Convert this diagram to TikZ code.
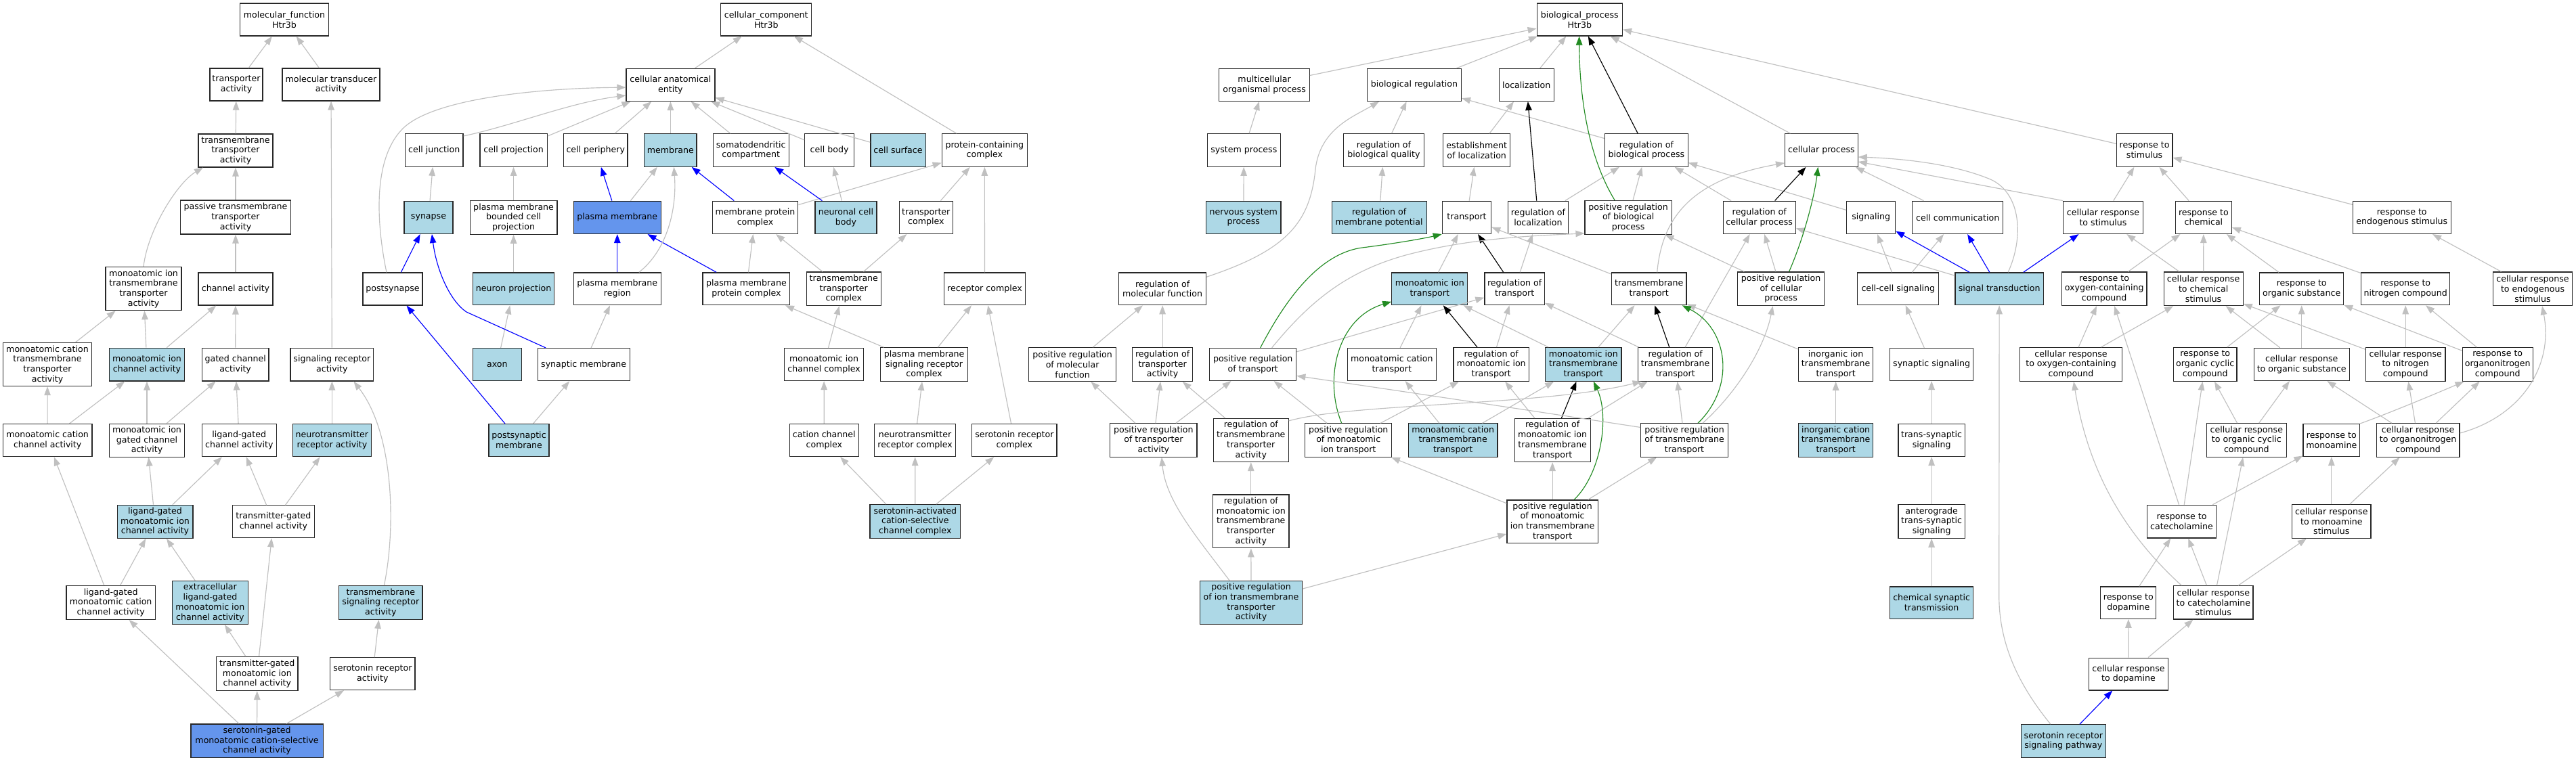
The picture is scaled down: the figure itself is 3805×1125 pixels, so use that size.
\documentclass[tikz,border=0pt]{standalone}
\usepackage{fontspec}
\setmainfont{DejaVu Sans}
\usetikzlibrary{arrows.meta}
\definecolor{edgegray}{RGB}{192,192,192}
\definecolor{lblue}{RGB}{173,216,230}
\definecolor{cblue}{RGB}{100,149,237}
\definecolor{fgreen}{RGB}{34,139,34}
\definecolor{bordergray}{RGB}{40,40,40}
\newcommand{\gn}[7]{\node[#6,minimum width=#4pt,minimum height=#5pt] (#1) at (#2,-#3) {#7};}
\begin{document}
\begin{tikzpicture}[x=1pt,y=1pt,
  gbox/.style={draw=bordergray,line width=1.2pt,rectangle,align=center,inner sep=1pt,font=\fontsize{12.6}{14.7}\selectfont},
  wbox/.style={gbox,fill=white},
  lbox/.style={gbox,fill=lblue},
  cbox/.style={gbox,fill=cblue},
  ge/.style={draw=edgegray,line width=1.15pt,-{Triangle[length=13pt,width=9.5pt]}},
  ke/.style={draw=black,line width=1.15pt,-{Triangle[length=13pt,width=9.5pt]}},
  be/.style={draw=blue,line width=1.15pt,-{Triangle[length=13pt,width=9.5pt]}},
  fe/.style={draw=fgreen,line width=1.15pt,-{Triangle[length=13pt,width=9.5pt]}}]
\useasboundingbox[fill=white] (0,0) rectangle (3805,-1125);
% ---------------- molecular function ----------------
\gn{mf}{420}{29}{131}{48}{wbox}{molecular\_function\\Htr3b}
\gn{ta}{349}{125}{78}{48}{wbox}{transporter\\activity}
\gn{mta}{489}{125}{144}{48}{wbox}{molecular transducer\\activity}
\gn{tta}{348}{222.5}{110}{49}{wbox}{transmembrane\\transporter\\activity}
\gn{ptta}{348}{321}{163}{50}{wbox}{passive transmembrane\\transporter\\activity}
\gn{mitta}{212}{426.6}{112}{64}{wbox}{monoatomic ion\\transmembrane\\transporter\\activity}
\gn{cha}{348}{427}{110}{48}{wbox}{channel activity}
\gn{postsyn}{580}{427}{88}{48}{wbox}{postsynapse}
\gn{mctta}{70}{538.6}{131}{64}{wbox}{monoatomic cation\\transmembrane\\transporter\\activity}
\gn{mica}{217}{538.6}{111.5}{48.7}{lbox}{monoatomic ion\\channel activity}
\gn{gca}{347.7}{538.6}{98.7}{48.7}{wbox}{gated channel\\activity}
\gn{sra}{490.4}{538.6}{122.8}{48.7}{wbox}{signaling receptor\\activity}
\gn{mcca}{70.2}{650.6}{131.4}{48}{wbox}{monoatomic cation\\channel activity}
\gn{migca}{217}{650.6}{111.5}{49}{wbox}{monoatomic ion\\gated channel\\activity}
\gn{lgca}{353.3}{650.6}{109.8}{48}{wbox}{ligand-gated\\channel activity}
\gn{nra}{490.4}{650.6}{115.5}{48}{lbox}{neurotransmitter\\receptor activity}
\gn{lgmica}{229}{770.8}{111.8}{49}{lbox}{ligand-gated\\monoatomic ion\\channel activity}
\gn{tgca}{403.9}{770.8}{120.4}{48}{wbox}{transmitter-gated\\channel activity}
\gn{lgmcca}{163.7}{890.5}{131.4}{49.7}{wbox}{ligand-gated\\monoatomic cation\\channel activity}
\gn{elgmica}{310.4}{890.5}{112.2}{64}{lbox}{extracellular\\ligand-gated\\monoatomic ion\\channel activity}
\gn{tsra}{562.4}{890.5}{123.3}{49.7}{lbox}{transmembrane\\signaling receptor\\activity}
\gn{tgmica}{379.8}{995.6}{120.4}{49.7}{wbox}{transmitter-gated\\monoatomic ion\\channel activity}
\gn{srac}{550.4}{995.6}{125.3}{48}{wbox}{serotonin receptor\\activity}
\gn{sgm}{379.6}{1094.6}{195.1}{49.4}{cbox}{serotonin-gated\\monoatomic cation-selective\\channel activity}
% ---------------- cellular component ----------------
\gn{cc}{1131.8}{29}{133.9}{48}{wbox}{cellular\_component\\Htr3b}
\gn{cae}{990.4}{125.4}{131}{48}{wbox}{cellular anatomical\\entity}
\gn{cj}{641.2}{222}{85.7}{48.5}{wbox}{cell junction}
\gn{cp}{758.6}{222}{99.2}{48.5}{wbox}{cell projection}
\gn{cpe}{879.8}{222}{94.3}{48.5}{wbox}{cell periphery}
\gn{mem}{990.4}{222}{77.1}{48.5}{lbox}{membrane}
\gn{sdc}{1109.2}{222}{112.2}{48.5}{wbox}{somatodendritic\\compartment}
\gn{cb}{1225.1}{222}{72.7}{48.5}{wbox}{cell body}
\gn{cs}{1326.5}{222}{81.2}{48.5}{lbox}{cell surface}
\gn{pcc}{1454.3}{222}{126.1}{48.5}{wbox}{protein-containing\\complex}
\gn{syn}{633}{321.3}{71.9}{48.3}{lbox}{synapse}
\gn{pmbcp}{758.6}{321.3}{128.6}{49.7}{wbox}{plasma membrane\\bounded cell\\projection}
\gn{pm}{911.8}{321.3}{129}{48.3}{cbox}{plasma membrane}
\gn{mpc}{1115.5}{321.3}{126.6}{48.3}{wbox}{membrane protein\\complex}
\gn{ncb}{1249.4}{321.3}{91}{48.3}{lbox}{neuronal cell\\body}
\gn{tc}{1367.8}{321.3}{78.7}{48.3}{wbox}{transporter\\complex}
\gn{np}{758.6}{426.8}{120.4}{47.8}{lbox}{neuron projection}
\gn{pmr}{911.8}{426.8}{129}{47.8}{wbox}{plasma membrane\\region}
\gn{pmpc}{1102.4}{426.8}{128.9}{47.8}{wbox}{plasma membrane\\protein complex}
\gn{ttc}{1246.3}{426.8}{110.2}{49.6}{wbox}{transmembrane\\transporter\\complex}
\gn{rc}{1454.5}{426.8}{120}{47.8}{wbox}{receptor complex}
\gn{axon}{734.3}{538.6}{71.8}{48}{lbox}{axon}
\gn{sm}{862.2}{538.6}{135.9}{48}{wbox}{synaptic membrane}
\gn{micc}{1217.1}{538.6}{117.1}{48}{wbox}{monoatomic ion\\channel complex}
\gn{pmsrc}{1365.1}{538.6}{129}{49.6}{wbox}{plasma membrane\\signaling receptor\\complex}
\gn{psm}{766.5}{650.6}{89}{48}{lbox}{postsynaptic\\membrane}
\gn{ccc}{1217.3}{650.6}{102}{48}{wbox}{cation channel\\complex}
\gn{nrc}{1351.6}{650.6}{120}{48}{wbox}{neurotransmitter\\receptor complex}
\gn{src}{1498.4}{650.6}{125.3}{48}{wbox}{serotonin receptor\\complex}
\gn{sacc}{1351.8}{770.4}{133.5}{49.6}{lbox}{serotonin-activated\\cation-selective\\channel complex}
% ---------------- biological process ----------------
\gn{bp}{2333.3}{29}{126.3}{48}{wbox}{biological\_process\\Htr3b}
\gn{mop}{1867.6}{125.4}{133.5}{48}{wbox}{multicellular\\organismal process}
\gn{br}{2089}{125.4}{138.9}{48}{wbox}{biological regulation}
\gn{loc}{2254.7}{125.4}{80.8}{48}{wbox}{localization}
\gn{sp}{1837.3}{222}{107.6}{48.5}{wbox}{system process}
\gn{rbq}{2044}{222}{118.3}{48.5}{wbox}{regulation of\\biological quality}
\gn{eol}{2181.2}{222}{99.1}{48.5}{wbox}{establishment\\of localization}
\gn{rbp}{2431.9}{222}{122.8}{48.5}{wbox}{regulation of\\biological process}
\gn{cproc}{2690.4}{222}{107.6}{48.5}{wbox}{cellular process}
\gn{rts}{3167.6}{222}{82.6}{48.5}{wbox}{response to\\stimulus}
\gn{nsp}{1836.8}{321.3}{110.3}{48.3}{lbox}{nervous system\\process}
\gn{rmp}{2037.1}{321.3}{140}{48.3}{lbox}{regulation of\\membrane potential}
\gn{tr}{2166.5}{321.3}{72.3}{48.3}{wbox}{transport}
\gn{rloc}{2271.9}{321.3}{88.4}{48.3}{wbox}{regulation of\\localization}
\gn{prbp}{2405.1}{321.3}{128.1}{49.7}{wbox}{positive regulation\\of biological\\process}
\gn{rcp}{2598.7}{321.3}{107.1}{48.3}{wbox}{regulation of\\cellular process}
\gn{sig}{2763.6}{321.3}{71.9}{48.3}{wbox}{signaling}
\gn{ccom}{2891.7}{321.3}{134.3}{48.3}{wbox}{cell communication}
\gn{crts}{3106.5}{321.3}{117.6}{48.3}{wbox}{cellular response\\to stimulus}
\gn{rtc}{3254.9}{321.3}{82.6}{48.3}{wbox}{response to\\chemical}
\gn{rtes}{3547.7}{321.3}{144.7}{48.3}{wbox}{response to\\endogenous stimulus}
\gn{rmf}{1717.1}{426.8}{128.5}{47.8}{wbox}{regulation of\\molecular function}
\gn{mit}{2111.8}{426.8}{112.1}{47.8}{lbox}{monoatomic ion\\transport}
\gn{rtr}{2237.1}{426.8}{88.4}{47.8}{wbox}{regulation of\\transport}
\gn{tmt}{2435.7}{426.8}{110.7}{47.8}{wbox}{transmembrane\\transport}
\gn{prcp}{2630.6}{426.8}{128.1}{49.6}{wbox}{positive regulation\\of cellular\\process}
\gn{ccs}{2803.8}{426.8}{120}{47.8}{wbox}{cell-cell signaling}
\gn{st}{2953.1}{426.8}{130.4}{47.8}{lbox}{signal transduction}
\gn{rtocc}{3108.1}{426.8}{125.7}{49.6}{wbox}{response to\\oxygen-containing\\compound}
\gn{crtcs}{3254.6}{426.8}{117}{49.6}{wbox}{cellular response\\to chemical\\stimulus}
\gn{rtos}{3399.7}{426.8}{123.7}{47.8}{wbox}{response to\\organic substance}
\gn{rtnc}{3553.2}{426.8}{130.9}{47.8}{wbox}{response to\\nitrogen compound}
\gn{crtes}{3741}{426.8}{117.6}{49.6}{wbox}{cellular response\\to endogenous\\stimulus}
\gn{prmf}{1584.1}{538.6}{128.6}{49.6}{wbox}{positive regulation\\of molecular\\function}
\gn{rta}{1717.1}{538.6}{88.5}{49.6}{wbox}{regulation of\\transporter\\activity}
\gn{prt}{1850.7}{538.4}{128.1}{48}{wbox}{positive regulation\\of transport}
\gn{mct}{2055.8}{538.4}{131.2}{48}{wbox}{monoatomic cation\\transport}
\gn{rmit}{2202.7}{538.4}{111.6}{49.6}{wbox}{regulation of\\monoatomic ion\\transport}
\gn{mitt}{2338.8}{538.4}{112.5}{49.6}{lbox}{monoatomic ion\\transmembrane\\transport}
\gn{rtt}{2474.6}{538.4}{109.9}{49.6}{wbox}{regulation of\\transmembrane\\transport}
\gn{iitt}{2711.6}{538.4}{109.8}{49.6}{wbox}{inorganic ion\\transmembrane\\transport}
\gn{ss}{2853.1}{538.4}{123.2}{48}{wbox}{synaptic signaling}
\gn{crtocc}{3059}{538.4}{151}{49.6}{wbox}{cellular response\\to oxygen-containing\\compound}
\gn{rtoc}{3257.2}{538.4}{93.4}{49.6}{wbox}{response to\\organic cyclic\\compound}
\gn{crtos}{3399.7}{538.4}{141.1}{48}{wbox}{cellular response\\to organic substance}
\gn{crtnc}{3553.2}{538.4}{117.5}{49.6}{wbox}{cellular response\\to nitrogen\\compound}
\gn{rtonc}{3689.2}{538.4}{104.2}{49.6}{wbox}{response to\\organonitrogen\\compound}
\gn{prta}{1703.9}{650.5}{128.2}{49.3}{wbox}{positive regulation\\of transporter\\activity}
\gn{rtta}{1847.8}{650.5}{110.7}{64.1}{wbox}{regulation of\\transmembrane\\transporter\\activity}
\gn{prmit}{1991.7}{650.5}{128.1}{49.3}{wbox}{positive regulation\\of monoatomic\\ion transport}
\gn{mctt}{2146.2}{650.5}{131.7}{49.3}{lbox}{monoatomic cation\\transmembrane\\transport}
\gn{rmitt}{2293.1}{650.5}{112}{64.1}{wbox}{regulation of\\monoatomic ion\\transmembrane\\transport}
\gn{prtt}{2488}{650.5}{128.5}{49.3}{wbox}{positive regulation\\of transmembrane\\transport}
\gn{ictt}{2711.6}{650.5}{109.8}{49.3}{lbox}{inorganic cation\\transmembrane\\transport}
\gn{tss}{2853.1}{650.5}{98.2}{48}{wbox}{trans-synaptic\\signaling}
\gn{crtoc}{3318.3}{650.5}{118.1}{49.6}{wbox}{cellular response\\to organic cyclic\\compound}
\gn{rtm}{3443.8}{650.5}{83.6}{48}{wbox}{response to\\monoamine}
\gn{crtonc}{3571.6}{650.5}{122.7}{49.6}{wbox}{cellular response\\to organonitrogen\\compound}
\gn{rmitta}{1847.8}{770.4}{112.5}{78.8}{wbox}{regulation of\\monoatomic ion\\transmembrane\\transporter\\activity}
\gn{prmitt}{2293.1}{770.8}{134.4}{63.8}{wbox}{positive regulation\\of monoatomic\\ion transmembrane\\transport}
\gn{atss}{2853.1}{770.4}{98.2}{49.6}{wbox}{anterograde\\trans-synaptic\\signaling}
\gn{rtca}{3222.5}{770.6}{102.1}{48.6}{wbox}{response to\\catecholamine}
\gn{crtms}{3443.8}{770.4}{116.5}{49.6}{wbox}{cellular response\\to monoamine\\stimulus}
\gn{pritta}{1848}{890.4}{150.4}{64.2}{lbox}{positive regulation\\of ion transmembrane\\transporter\\activity}
\gn{cst}{2853.1}{890.6}{123.2}{47.4}{lbox}{chemical synaptic\\transmission}
\gn{rtd}{3143.8}{890.6}{82.1}{47.4}{wbox}{response to\\dopamine}
\gn{crtcas}{3269.3}{890.4}{117.5}{49.3}{wbox}{cellular response\\to catecholamine\\stimulus}
\gn{crtd}{3144}{996}{116.6}{47.8}{wbox}{cellular response\\to dopamine}
\gn{srsp}{3047.8}{1094.9}{125.1}{48.5}{lbox}{serotonin receptor\\signaling pathway}
% ---------------- straight gray edges ----------------
\foreach \a/\b in {ta/mf, mta/mf, tta/ta, ptta/tta, cha/ptta, mctta/mitta, mica/mitta, mica/cha, gca/cha, sra/mta,
  mcca/mctta, mcca/mica, migca/mica, migca/gca, lgca/gca, nra/sra, lgmica/migca, lgmica/lgca, tgca/lgca, tgca/nra,
  lgmcca/mcca, lgmcca/lgmica, elgmica/lgmica, tgmica/elgmica, tgmica/tgca, srac/tsra, sgm/lgmcca, sgm/tgmica, sgm/srac,
  cae/cc, pcc/cc, cp/cae, cpe/cae, mem/cae, sdc/cae, cb/cae, cs/cae, syn/cj, pmbcp/cp, pm/mem, mpc/pcc, ncb/cb, tc/pcc,
  np/pmbcp, pmpc/mpc, ttc/mpc, ttc/tc, rc/pcc, axon/np, sm/pmr, micc/ttc, pmsrc/pmpc, pmsrc/rc, psm/sm, ccc/micc,
  nrc/pmsrc, src/rc, sacc/nrc, sacc/src,
  mop/bp, br/bp, loc/bp, cproc/bp, rts/bp, sp/mop, rbq/br, eol/loc, rbp/br, nsp/sp, rmp/rbq, tr/eol, rloc/rbp,
  prbp/rbp, rcp/rbp, sig/rbp, ccom/cproc, crts/rts, rtc/rts, rtes/rts, mit/tr, tmt/tr, rtr/rloc, prcp/rcp, prcp/prbp,
  ccs/sig, ccs/ccom, st/rcp, rtocc/rtc, crtcs/rtc, crtcs/crts, rtos/rtc, rtnc/rtc, crtes/rtes, prmf/rmf, rta/rmf,
  mct/mit, rmit/rtr, mitt/mit, mitt/tmt, rtt/rtr, iitt/tmt, ss/ccs, crtocc/rtocc, crtocc/crtcs, rtoc/rtos, crtos/crtcs,
  crtos/rtos, crtnc/crtcs, crtnc/rtnc, rtonc/rtos, rtonc/rtnc, prta/prmf, prta/rta, rtta/rta, prta/prt, prmit/prt,
  prt/rtr, mctt/mct, prmit/rmit, rmitt/rmit, mctt/mitt, rmitt/rtt, prtt/rtt, ictt/iitt, tss/ss, rtca/rtoc, rtca/rtm,
  crtoc/rtoc, crtoc/crtos, crtonc/crtos, crtonc/crtnc, crtonc/rtonc, crtms/rtm, crtms/crtonc, rmitta/rtta,
  prmitt/prmit, prmitt/rmitt, prmitt/prtt, atss/tss, pritta/rmitta, pritta/prmitt, cst/atss, crtcas/rtca,
  crtcas/crtoc, crtcas/crtms, rtd/rtca, crtd/rtd, crtd/crtcas, rtt/rcp}
  \draw[ge] (\a) -- (\b);
\draw[ge] ([xshift=-43pt]sacc.north) -- (ccc);
\draw[ge] (crts.north west) -- ([yshift=-17pt]cproc.east);
\draw[ge] ([xshift=-4pt]rtca.north) -- ([xshift=15pt]rtocc.south);
% ---------------- black, blue, green straight edges ----------------
\foreach \a/\b in {rbp/bp, rloc/loc, rcp/cproc, rtr/tr, rmit/mit, rmitt/mitt, rtt/tmt}
  \draw[ke] (\a) -- (\b);
\foreach \a/\b in {pm/cpe, mpc/mem, ncb/sdc, postsyn/syn, pmr/pm, pmpc/pm, psm/postsyn, st/sig, st/ccom, st/crts, srsp/crtd}
  \draw[be] (\a) -- (\b);
% ---------------- curved edges ----------------
\draw[ge] (mitta.north) .. controls (218,-340) and (262,-270) .. ([xshift=-48pt]tta.south);
\draw[ge] ([xshift=5pt]tsra.north) .. controls (585,-780) and (582,-640) .. ([xshift=32pt]sra.south);
\draw[ge] ([yshift=21pt]cj.east) .. controls (760,-185) and (840,-152) .. ([yshift=-15.6pt]cae.west);
\draw[ge] ([xshift=-9pt]postsyn.north) .. controls (560,-350) and (545,-240) .. (595,-190)
   .. controls (640,-145) and (800,-130) .. ([yshift=-3.8pt]cae.west);
\draw[ge] ([xshift=32pt]pmr.north) .. controls (985,-370) and (1000,-310) .. ([xshift=5pt]mem.south);
\draw[be] ([xshift=-56pt]sm.north) -- (689,-461) .. controls (665,-445) and (645,-400) .. ([xshift=5pt]syn.south);
\draw[ge] ([yshift=-7pt]rmf.north east) .. controls (1900,-370) and (1935,-330) .. (1943,-250)
   .. controls (1950,-190) and (2000,-172) .. ([xshift=-52pt]br.south);
\draw[fe] ([xshift=-20pt]prbp.north) .. controls (2345,-230) and (2333,-140) .. ([xshift=-0.7pt]bp.south);
\draw[fe] ([xshift=11pt]prt.north) .. controls (1895,-450) and (1945,-375) .. (2012,-366)
   .. controls (2060,-360) and (2105,-352) .. (tr.south west);
\draw[ge] ([xshift=28pt]prt.north) .. controls (1935,-445) and (1990,-400) .. (2080,-376)
   .. controls (2180,-350) and (2280,-348) .. ([yshift=2pt]prbp.south west);
\draw[fe] ([xshift=-10pt]prmit.north) .. controls (1955,-560) and (1975,-470) .. ([yshift=-19pt]mit.west);
\draw[fe] ([xshift=32pt]prmitt.north) .. controls (2365,-700) and (2378,-615) .. ([xshift=15pt]mitt.south);
\draw[ge] ([xshift=-32pt]pritta.north) .. controls (1765,-790) and (1722,-740) .. ([xshift=12pt]prta.south);
\draw[ge] ([yshift=-4pt]rtta.north east) .. controls (2000,-595) and (2280,-600) .. ([xshift=-50pt]rtt.south);
\draw[ge] ([yshift=19pt]prtt.west) .. controls (2250,-605) and (2050,-575) .. ([yshift=-17pt]prt.east);
\draw[ge] ([xshift=27pt]prtt.north) .. controls (2560,-585) and (2605,-520) .. ([xshift=-12pt]prcp.south);
\draw[fe] ([xshift=20pt]prtt.north) .. controls (2565,-570) and (2552,-485) .. ([xshift=49pt]tmt.south);
\draw[ge] ([xshift=12pt]tmt.north) .. controls (2455,-320) and (2500,-265) .. ([yshift=6pt]cproc.south west);
\draw[fe] ([xshift=12pt]prcp.north) .. controls (2665,-350) and (2680,-290) .. ([xshift=-5pt]cproc.south);
\draw[ge] ([xshift=13pt]st.north) .. controls (2990,-350) and (2985,-285) .. (2940,-265)
   .. controls (2880,-240) and (2800,-234) .. ([yshift=-10pt]cproc.east);
\draw[ge] ([xshift=-19pt]srsp.north) .. controls (2980,-1010) and (2952.7,-950) .. (2952.7,-880) -- (st.south);
\draw[ge] ([xshift=-47pt]crtcas.north) .. controls (3140,-790) and (3085,-700) .. ([xshift=4pt]crtocc.south);
\draw[ge] (rtm.north east) .. controls (3530,-610) and (3590,-585) .. ([xshift=3pt]rtonc.south west);
\draw[ge] ([yshift=10.5pt]crtonc.east) .. controls (3725,-615) and (3772,-540) .. ([xshift=14pt]crtes.south);
\end{tikzpicture}
\end{document}
